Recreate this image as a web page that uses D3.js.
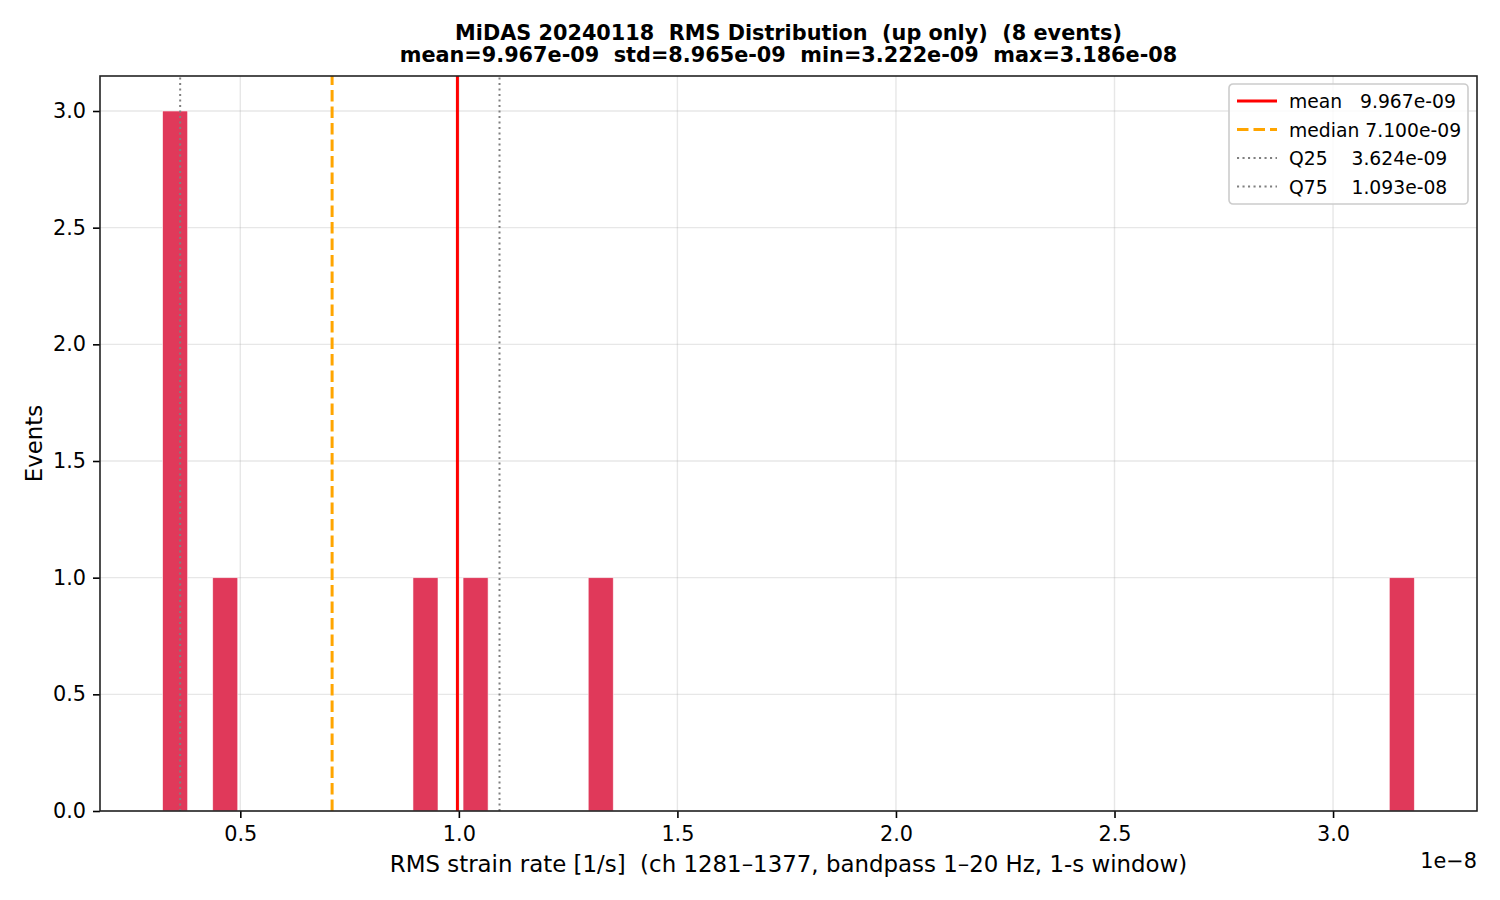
<!DOCTYPE html>
<html>
<head>
<meta charset="utf-8">
<script src="https://cdn.jsdelivr.net/npm/d3@7"></script>
<style>
  body { margin: 0; background: #fff; }
  svg text { font-family: "DejaVu Sans", sans-serif; white-space: pre; }
</style>
</head>
<body>
<div id="chart"></div>
<script>
// histogram bins (units of 1e-8), 50 equal bins between min and max
var binLefts = [0.3222, 0.4368, 0.8950, 1.0096, 1.2960, 3.1287];
var binCounts = [3, 1, 1, 1, 1, 1];
var binWidth = 0.05728;

var statNames = ["mean", "median", "Q25", "Q75"];
var statValues = [0.9967, 0.7100, 0.3624, 1.093];
var statLabels = ["mean   9.967e-09", "median 7.100e-09", "Q25    3.624e-09", "Q75    1.093e-08"];

var xTicks = [0.5, 1.0, 1.5, 2.0, 2.5, 3.0];
var yTicks = [0, 0.5, 1.0, 1.5, 2.0, 2.5, 3.0];

var W = 1500, H = 900;
var margin = { top: 76, right: 23, bottom: 89, left: 100 };

var svg = d3.select("#chart").append("svg")
  .attr("width", W)
  .attr("height", H);

var x = d3.scaleLinear().domain([0.1790, 3.3293]).range([margin.left, W - margin.right]);
var y = d3.scaleLinear().domain([0, 3.15]).range([H - margin.bottom, margin.top]);

// grid
svg.append("g").selectAll("line").data(xTicks).join("line")
  .attr("x1", d => x(d)).attr("x2", d => x(d))
  .attr("y1", y(0)).attr("y2", y(3.15))
  .attr("stroke", "#b0b0b0").attr("stroke-opacity", 0.3).attr("stroke-width", 1.4);
svg.append("g").selectAll("line").data(yTicks).join("line")
  .attr("x1", x.range()[0]).attr("x2", x.range()[1])
  .attr("y1", d => y(d)).attr("y2", d => y(d))
  .attr("stroke", "#b0b0b0").attr("stroke-opacity", 0.3).attr("stroke-width", 1.4);

// bars
svg.append("g").selectAll("rect").data(binLefts).join("rect")
  .attr("x", d => x(d))
  .attr("y", (d, i) => y(binCounts[i]))
  .attr("width", d => x(d + binWidth) - x(d))
  .attr("height", (d, i) => y(0) - y(binCounts[i]))
  .attr("fill", "#e0395a")
  .attr("stroke", "#fff")
  .attr("stroke-opacity", 0.7)
  .attr("stroke-width", 0.8);

// stat lines
var statStyle = [
  { color: "#ff0000", dash: null, width: 3 },
  { color: "#ffa500", dash: "11.5,5", width: 3 },
  { color: "#808080", dash: "2.1,3.4", width: 2 },
  { color: "#808080", dash: "2.1,3.4", width: 2 }
];
svg.append("g").selectAll("line").data(statValues).join("line")
  .attr("x1", d => x(d)).attr("x2", d => x(d))
  .attr("y1", y(0)).attr("y2", y(3.15))
  .attr("stroke", (d, i) => statStyle[i].color)
  .attr("stroke-width", (d, i) => statStyle[i].width)
  .attr("stroke-dasharray", (d, i) => statStyle[i].dash);

// axes
var xAxis = svg.append("g")
  .attr("transform", "translate(0," + y(0) + ")")
  .call(d3.axisBottom(x).tickValues(xTicks).tickFormat(d3.format(".1f")).tickSizeOuter(0).tickSize(7).tickPadding(8));
var yAxis = svg.append("g")
  .attr("transform", "translate(" + margin.left + ",0)")
  .call(d3.axisLeft(y).tickValues(yTicks).tickFormat(d3.format(".1f")).tickSizeOuter(0).tickSize(7).tickPadding(7));
[xAxis, yAxis].forEach(function (a) {
  a.selectAll("text").attr("font-size", 20.8).attr("fill", "#000").attr("font-family", "DejaVu Sans");
  a.selectAll(".tick line").attr("stroke", "#000").attr("stroke-width", 1.6);
  a.select(".domain").remove();
});

// frame
svg.append("rect")
  .attr("x", x.range()[0]).attr("y", y(3.15))
  .attr("width", x.range()[1] - x.range()[0])
  .attr("height", y(0) - y(3.15))
  .attr("fill", "none").attr("stroke", "#222").attr("stroke-width", 1.6);

// offset text
svg.append("text")
  .attr("x", x.range()[1]).attr("y", 868)
  .attr("text-anchor", "end").attr("font-size", 20.8)
  .text("1e\u22128");

// axis labels
svg.append("text")
  .attr("x", (x.range()[0] + x.range()[1]) / 2).attr("y", 872)
  .attr("text-anchor", "middle").attr("font-size", 22.9)
  .text("RMS strain rate [1/s]  (ch 1281\u20131377, bandpass 1\u201320 Hz, 1-s window)");
svg.append("text")
  .attr("transform", "translate(42," + (y(1.575)) + ") rotate(-90)")
  .attr("text-anchor", "middle").attr("font-size", 22.9)
  .text("Events");

// title
var title = svg.append("text")
  .attr("text-anchor", "middle").attr("font-weight", "bold").attr("font-size", 20.8);
title.append("tspan").attr("x", (x.range()[0] + x.range()[1]) / 2).attr("y", 40)
  .text("MiDAS 20240118  RMS Distribution  (up only)  (8 events)");
title.append("tspan").attr("x", (x.range()[0] + x.range()[1]) / 2).attr("y", 62)
  .text("mean=9.967e-09  std=8.965e-09  min=3.222e-09  max=3.186e-08");

// legend
var lg = svg.append("g").attr("transform", "translate(1229,84)");
lg.append("rect")
  .attr("width", 239).attr("height", 120).attr("rx", 4)
  .attr("fill", "#fff").attr("fill-opacity", 0.8)
  .attr("stroke", "#ccc").attr("stroke-width", 1.6);
var items = lg.selectAll("g.item").data(statNames).join("g")
  .attr("class", "item")
  .attr("transform", (d, i) => "translate(0," + (17 + i * 28.5) + ")");
items.append("line")
  .attr("x1", 8).attr("x2", 48).attr("y1", 0).attr("y2", 0)
  .attr("stroke", (d, i) => statStyle[i].color)
  .attr("stroke-width", (d, i) => statStyle[i].width)
  .attr("stroke-dasharray", (d, i) => statStyle[i].dash);
items.append("text")
  .attr("x", 60).attr("y", 7)
  .attr("font-size", 18.75)
  .text((d, i) => statLabels[i]);
</script>
</body>
</html>
